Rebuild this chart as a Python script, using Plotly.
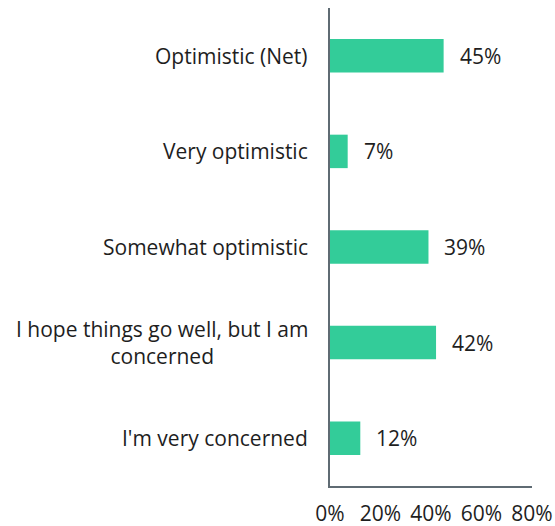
import plotly.graph_objects as go

categories = [
    "Optimistic (Net)",
    "Very optimistic",
    "Somewhat optimistic",
    "I hope things go well, but I am<br>concerned",
    "I'm very concerned",
]
values = [45, 7, 39, 42, 12]
tick_vals = [0, 20, 40, 60, 80]
tick_text = ["0%", "20%", "40%", "60%", "80%"]

BAR = "#33CC99"
AXIS = "#5f6b73"
TEXT = "#1e1e1e"
FONT = "Open Sans"
SIZE = 21

fig = go.Figure(
    go.Bar(
        x=values,
        y=categories,
        orientation="h",
        marker=dict(color=BAR, line=dict(width=0)),
        width=0.35,
        hoverinfo="skip",
    )
)

# value labels to the right of each bar
for cat, val in zip(categories, values):
    fig.add_annotation(
        x=val, y=cat, xref="x", yref="y",
        text=f"{val}%", showarrow=False,
        xanchor="left", xshift=14,
        font=dict(family=FONT, size=SIZE, color=TEXT),
    )

# category labels, centred within their own block
for cat in categories:
    fig.add_annotation(
        x=0, y=cat, xref="paper", yref="y",
        text=cat, showarrow=False,
        xanchor="right", xshift=-20, align="center",
        font=dict(family=FONT, size=SIZE, color=TEXT),
    )

fig.update_layout(
    width=555, height=526,
    margin=dict(l=330, r=23, t=8, b=40),
    paper_bgcolor="white", plot_bgcolor="white",
    showlegend=False,
    font=dict(family=FONT, size=SIZE, color=TEXT),
    xaxis=dict(
        range=[0, 80], tickvals=tick_vals, ticktext=tick_text,
        showgrid=False, zeroline=False,
        showline=True, linecolor=AXIS, linewidth=2,
        ticks="", ticklabelstandoff=8, automargin=False,
        tickfont=dict(family=FONT, size=SIZE, color=TEXT),
        fixedrange=True,
    ),
    yaxis=dict(
        autorange="reversed", showticklabels=False,
        showgrid=False, zeroline=False,
        showline=True, linecolor=AXIS, linewidth=2,
        ticks="", fixedrange=True, automargin=False,
    ),
)

fig.write_html("out.html")
